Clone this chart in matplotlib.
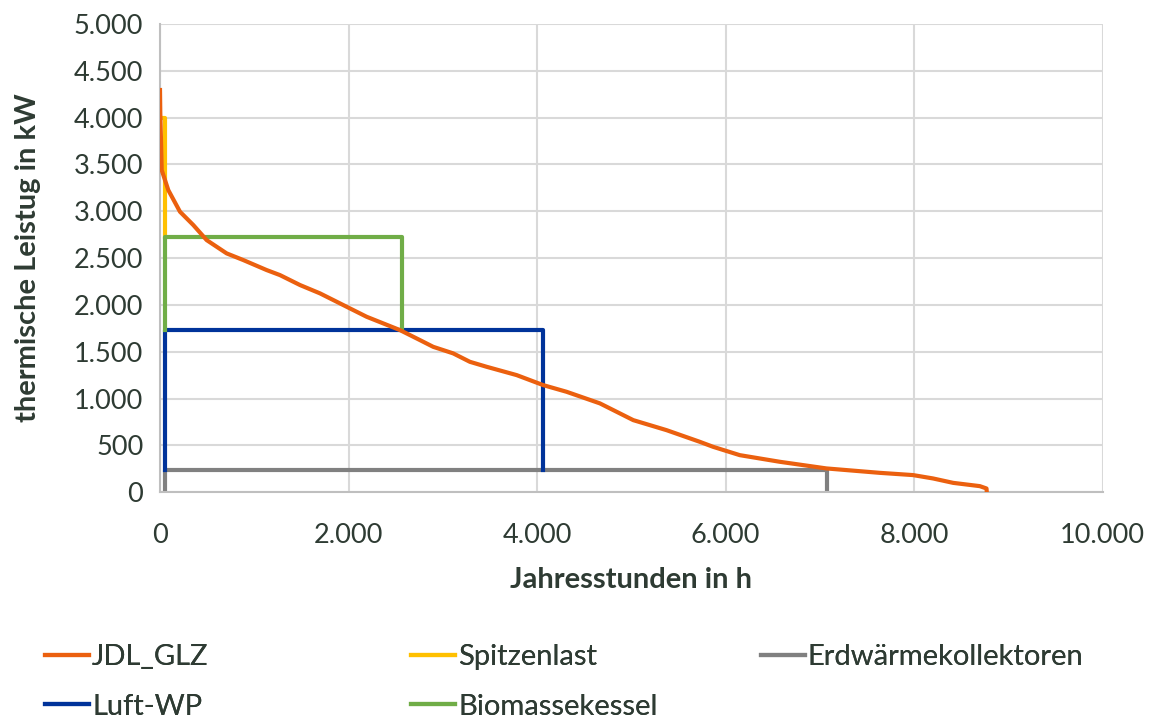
import matplotlib.pyplot as plt
from matplotlib.ticker import FuncFormatter, MultipleLocator

plt.rcParams['font.family'] = ['Lato', 'DejaVu Sans']

# Jahresdauerlinie
jdl_h = [0, 3, 7, 18, 53, 88, 212, 353, 495, 707, 883, 1131, 1273, 1485, 1697,
         1980, 2192, 2545, 2757, 2898, 3110, 3287, 3464, 3783, 4065, 4312, 4666,
         5020, 5373, 5727, 5867, 6150, 6575, 7070, 7635, 7988, 8200, 8413, 8696,
         8767, 8770]
jdl_kw = [4295, 4050, 3900, 3440, 3333, 3226, 2995, 2853, 2692, 2550, 2479, 2372,
          2318, 2212, 2123, 1980, 1873, 1731, 1624, 1552, 1482, 1392, 1339, 1250,
          1143, 1072, 948, 769, 662, 537, 484, 395, 324, 253, 206, 182, 146, 99, 64,
          39, 0]

# Erzeuger
spitze_h = [0, 50, 50]
spitze_kw = [4000, 4000, 2730]
bio_h = [50, 50, 2566, 2566]
bio_kw = [1735, 2730, 2730, 1735]
luft_h = [50, 50, 4061, 4061]
luft_kw = [240, 1735, 1735, 240]
erd_h = [50, 50, 7073, 7073]
erd_kw = [0, 240, 240, 0]

txt = '#2E3B33'
fig = plt.figure(figsize=(11.62, 7.28), dpi=100)
ax = fig.add_axes([0.1377, 0.324, 0.949 - 0.1377, 0.967 - 0.324])

l_jdl, = ax.plot(jdl_h, jdl_kw, color='#EB600F', lw=3, label='JDL_GLZ', zorder=5)
l_sp, = ax.plot(spitze_h, spitze_kw, color='#FFC000', lw=3, label='Spitzenlast')
l_erd, = ax.plot(erd_h, erd_kw, color='#808080', lw=3, label='Erdwärmekollektoren')
l_luft, = ax.plot(luft_h, luft_kw, color='#00339A', lw=3, label='Luft-WP')
l_bio, = ax.plot(bio_h, bio_kw, color='#70AD47', lw=3, label='Biomassekessel')

ax.set_xlim(0, 10000)
ax.set_ylim(0, 5000)
ax.xaxis.set_major_locator(MultipleLocator(2000))
ax.yaxis.set_major_locator(MultipleLocator(500))
fmt = FuncFormatter(lambda v, p: f'{int(v):,}'.replace(',', '.'))
ax.xaxis.set_major_formatter(fmt)
ax.yaxis.set_major_formatter(fmt)
ax.grid(color='#D9D9D9', lw=1.5)
ax.set_axisbelow(True)
for s in ['top', 'right']:
    ax.spines[s].set_visible(False)
for s in ['left', 'bottom']:
    ax.spines[s].set_color('#BFBFBF')
    ax.spines[s].set_linewidth(1.5)
ax.tick_params(length=0, labelsize=19.5, labelcolor=txt)
ax.tick_params(axis='x', pad=22)
ax.tick_params(axis='y', pad=12)
ax.set_xlabel('Jahresstunden in h', fontsize=21, fontweight='bold', color=txt, labelpad=14)
ax.set_ylabel('thermische Leistug in kW', fontsize=21, fontweight='bold', color=txt, labelpad=24)

# Legende: drei Spalten, jeweils eigene Legende
spalten = [([l_jdl, l_luft], 0.039), ([l_sp, l_bio], 0.354), ([l_erd], 0.655)]
for hs, x0 in spalten:
    lg = fig.legend(handles=hs, loc='upper left', bbox_to_anchor=(x0, 0.115),
                    frameon=False, fontsize=21, handlelength=1.5, handletextpad=0.1,
                    labelspacing=0.8, borderpad=0, borderaxespad=0, labelcolor=txt)
    fig.add_artist(lg)

fig.savefig('out.png', dpi=100)
